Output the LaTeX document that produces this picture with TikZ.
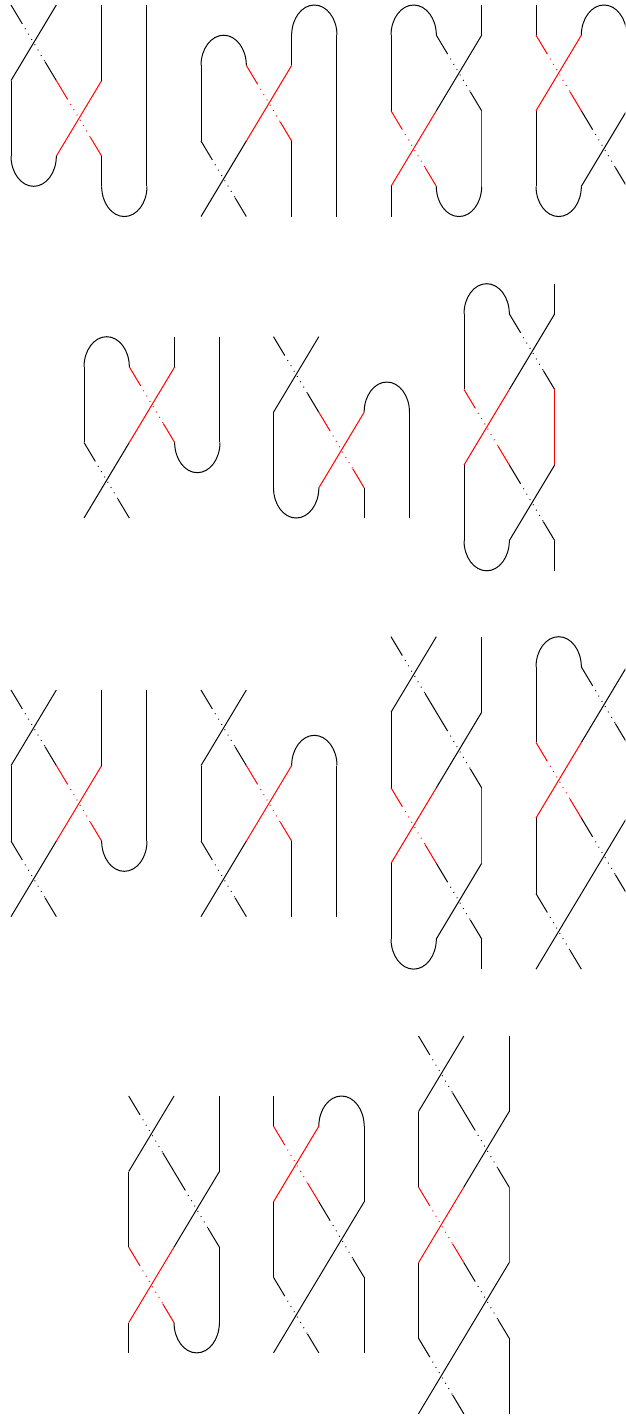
\documentclass[tikz,border=0pt]{standalone}
\usetikzlibrary{calc}
\tikzset{
  strand/.style={line width=1pt},
  gap/.style={line width=1pt, dash pattern=on 0.9pt off 5.3pt, dash phase=0.9pt}
}
% crossing between columns #2 and #2+3, from row #3 to row #3+5
\newcommand{\xing}[3][black]{
  \draw[#1, strand] (#2,#3+5) -- (#2+3,#3);
  \draw[#1, strand] (#2,#3) -- ($(#2,#3)!0.25!(#2+3,#3+5)$);
  \draw[#1, gap] ($(#2,#3)!0.25!(#2+3,#3+5)$) -- ($(#2,#3)!0.75!(#2+3,#3+5)$);
  \draw[#1, strand] ($(#2,#3)!0.75!(#2+3,#3+5)$) -- (#2+3,#3+5);
}
\newcommand{\riser}[4][black]{\draw[#1, strand] (#2,#3) -- (#2,#4);}
\newcommand{\capup}[2]{\draw[strand] (#1,#2) arc[start angle=180, end angle=360, x radius=1.5, y radius=2];}
\newcommand{\capdown}[2]{\draw[strand] (#1,#2) arc[start angle=180, end angle=0, x radius=1.5, y radius=2];}
\begin{document}
\begin{tikzpicture}[x=15.11pt, y=-15.11pt]
  \useasboundingbox (0pt,0pt) rectangle (626pt,-1416pt);
  \clip (0pt,0pt) rectangle (625.4pt,-1416pt);

  % first row
  \begin{scope}[shift={(11pt,-5pt)}]
    \xing{0}{0} \xing[red]{3}{5}
    \riser{0}{5}{10} \capdown{0}{10}
    \riser{6}{0}{5} \riser{6}{10}{12} \capdown{6}{12}
    \riser{9}{0}{12}
  \end{scope}
  \begin{scope}[shift={(201pt,-5pt)}]
    \capup{0}{4} \riser{0}{4}{9} \xing{0}{9}
    \xing[red]{3}{4}
    \riser{6}{9}{14} \riser{6}{2}{4} \capup{6}{2}
    \riser{9}{2}{14}
  \end{scope}
  \begin{scope}[shift={(391pt,-5pt)}]
    \capup{0}{2} \riser{0}{2}{7} \xing{3}{2}
    \riser{6}{0}{2} \xing[red]{0}{7} \riser[red]{6}{7}{12}
    \riser{0}{12}{14} \capdown{3}{12}
  \end{scope}
  \begin{scope}[shift={(536pt,-5pt)}]
    \riser{0}{0}{2} \capup{3}{2} \xing[red]{0}{2}
    \riser{6}{2}{7} \riser{0}{7}{12} \capdown{0}{12}
    \xing{3}{7} \riser{6}{12}{14}
  \end{scope}

  % second row
  \begin{scope}[shift={(84pt,-336.7pt)}]
    \capup{0}{2} \riser{0}{2}{7} \xing{0}{7}
    \xing[red]{3}{2} \riser{6}{0}{2}
    \riser{9}{0}{7} \capdown{6}{7}
  \end{scope}
  \begin{scope}[shift={(273.5pt,-336.7pt)}]
    \xing{0}{0} \riser{0}{5}{10} \capdown{0}{10}
    \xing[red]{3}{5} \capup{6}{5}
    \riser{6}{10}{12} \riser{9}{5}{12}
  \end{scope}
  \begin{scope}[shift={(464pt,-283.7pt)}]
    \capup{0}{2} \riser{0}{2}{7} \xing{3}{2} \riser{6}{0}{2}
    \xing[red]{0}{7} \riser[red]{6}{7}{12}
    \riser{0}{12}{17} \xing{3}{12}
    \capdown{0}{17} \riser{6}{17}{19}
  \end{scope}

  % third row
  \begin{scope}[shift={(11pt,-690pt)}]
    \xing{0}{0} \riser{0}{5}{10} \xing{0}{10}
    \xing[red]{3}{5} \riser{6}{0}{5}
    \capdown{6}{10} \riser{9}{0}{10}
  \end{scope}
  \begin{scope}[shift={(201pt,-690pt)}]
    \xing{0}{0} \riser{0}{5}{10} \xing{0}{10}
    \xing[red]{3}{5} \capup{6}{5}
    \riser{6}{10}{15} \riser{9}{5}{15}
  \end{scope}
  \begin{scope}[shift={(391pt,-636.7pt)}]
    \xing{0}{0} \riser{6}{0}{5} \riser{0}{5}{10} \xing{3}{5}
    \xing[red]{0}{10} \riser[red]{6}{10}{15}
    \riser{0}{15}{20} \xing{3}{15}
    \capdown{0}{20} \riser{6}{20}{22}
  \end{scope}
  \begin{scope}[shift={(536pt,-636.7pt)}]
    \capup{0}{2} \riser{0}{2}{7} \xing{3}{2} \riser{6}{0}{2}
    \xing[red]{0}{7} \riser[red]{6}{7}{12}
    \riser{0}{12}{17} \xing{3}{12}
    \xing{0}{17} \riser{6}{17}{22}
  \end{scope}

  % fourth row
  \begin{scope}[shift={(128.7pt,-1096pt)}]
    \xing{0}{0} \riser{6}{0}{5} \riser{0}{5}{10} \xing{3}{5}
    \xing[red]{0}{10} \riser{6}{10}{15}
    \riser{0}{15}{17} \capdown{3}{15}
  \end{scope}
  \begin{scope}[shift={(273.5pt,-1096pt)}]
    \riser{0}{0}{2} \capup{3}{2} \xing[red]{0}{2}
    \riser{6}{2}{7} \riser{0}{7}{12} \xing{3}{7}
    \xing{0}{12} \riser{6}{12}{17}
  \end{scope}
  \begin{scope}[shift={(418.5pt,-1036pt)}]
    \xing{0}{0} \riser{6}{0}{5} \riser{0}{5}{10} \xing{3}{5}
    \xing[red]{0}{10} \riser[red]{6}{10}{15}
    \riser{0}{15}{20} \xing{3}{15}
    \xing{0}{20} \riser{6}{20}{25}
  \end{scope}
\end{tikzpicture}
\end{document}
